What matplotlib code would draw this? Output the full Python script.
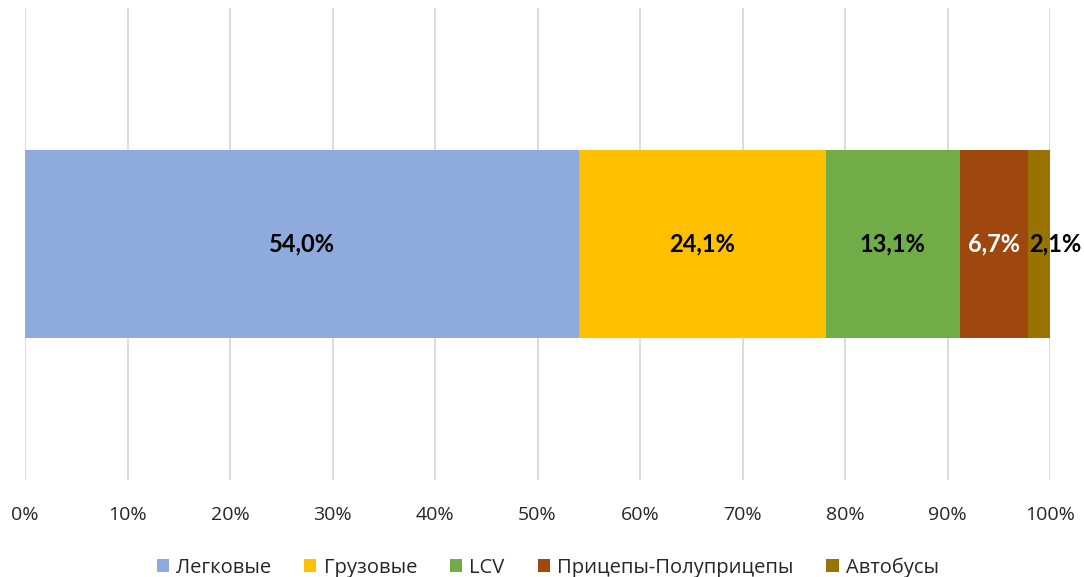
import matplotlib
matplotlib.use('Agg')
import matplotlib.pyplot as plt
from matplotlib.ticker import FuncFormatter

plt.rcParams['font.family'] = ['Open Sans', 'DejaVu Sans']

categories = ['Легковые', 'Грузовые', 'LCV', 'Прицепы-Полуприцепы', 'Автобусы']
shares = [54.0, 24.1, 13.1, 6.7, 2.1]
colors = ['#8FAADC', '#FFC000', '#70AD47', '#9E480E', '#997300']
label_colors = ['black', 'black', 'black', 'white', 'black']

fig = plt.figure(figsize=(10.84, 5.77), dpi=100)
ax = fig.add_axes([25 / 1084, 1 - 480 / 577, 1025 / 1084, 472 / 577])

left = 0
for i, (cat, val, col, lc) in enumerate(zip(categories, shares, colors, label_colors)):
    ax.barh(0, val, left=left, height=0.4, color=col, label=cat, zorder=3)
    txt = f'{val:.1f}%'.replace('.', ',')
    if i == len(shares) - 1:
        # last thin segment: label starts at the segment edge, like Excel
        ax.text(left + 0.1, 0, txt, ha='left', va='center', fontsize=17,
                fontweight='bold', color=lc, zorder=4, family=['Lato', 'DejaVu Sans'])
    else:
        ax.text(left + val / 2, 0, txt, ha='center', va='center', fontsize=17,
                fontweight='bold', color=lc, zorder=4, family=['Lato', 'DejaVu Sans'])
    left += val

ax.set_xlim(0, 100)
ax.set_ylim(-0.5, 0.5)
ax.set_xticks(range(0, 101, 10))
ax.xaxis.set_major_formatter(FuncFormatter(lambda v, p: f'{int(v)}%'))
ax.set_yticks([])
ax.grid(axis='x', color='#D9D9D9', linewidth=1.3, zorder=0)
for s in ax.spines.values():
    s.set_visible(False)
ax.tick_params(axis='x', length=0, labelsize=14, colors='#262626', pad=19)

ax.legend(loc='upper center', bbox_to_anchor=(0.51, -0.125), ncol=5, frameon=False,
          fontsize=14.5, handlelength=0.6, handleheight=0.6, handletextpad=0.35,
          columnspacing=1.65, labelcolor='#262626')

fig.savefig('out.png', dpi=100)
